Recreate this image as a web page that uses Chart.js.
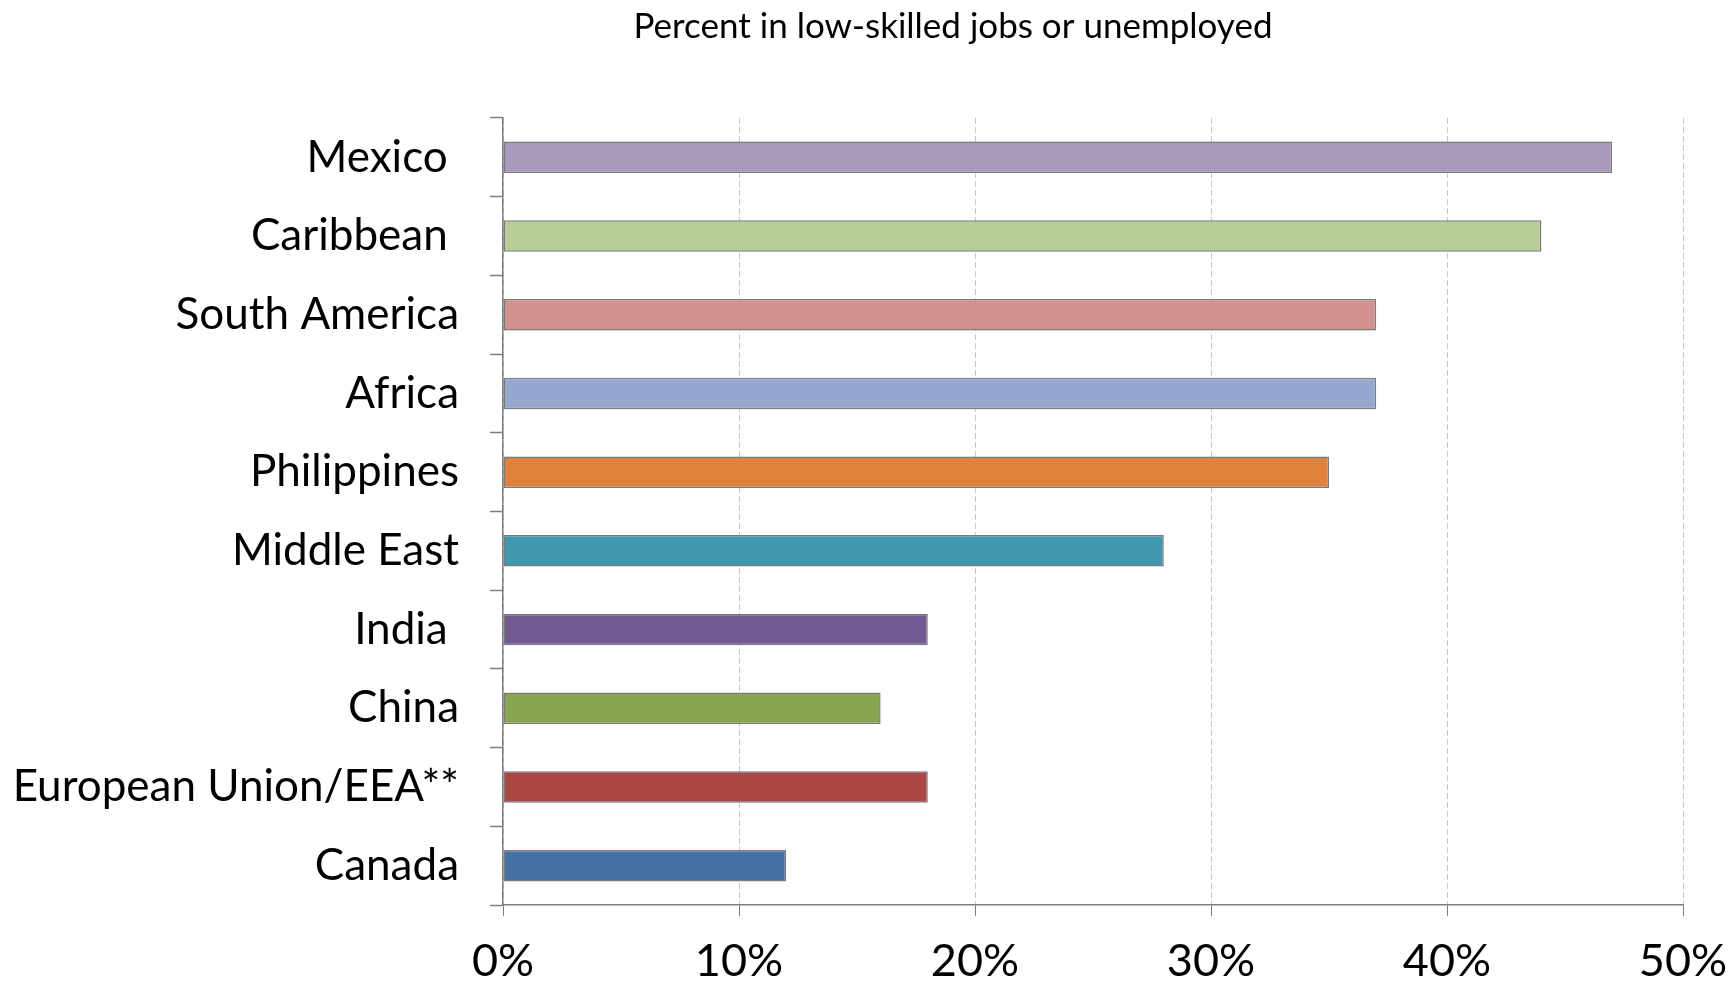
<!DOCTYPE html>
<html>
<head>
<meta charset="utf-8">
<script src="https://cdn.jsdelivr.net/npm/chart.js@4.4.1/dist/chart.umd.min.js"></script>
<style>
  html, body { margin: 0; padding: 0; background: #fff; }
  #wrap { width: 1734px; height: 983px; }
</style>
</head>
<body>
<div id="wrap"><canvas id="chart"></canvas></div>
<script>
// regions, top to bottom (trailing spaces kept as in the original labels)
const regions = ['Mexico ', 'Caribbean ', 'South America', 'Africa', 'Philippines',
                 'Middle East', 'India ', 'China', 'European Union/EEA**', 'Canada'];
// percent in low-skilled jobs or unemployed
const shares = [47, 44, 37, 37, 35, 28, 18, 16, 18, 12];
const barColors = ['#a99abd', '#b9ce97', '#d39292', '#95a9d0', '#de823c',
                   '#4198af', '#735a91', '#88a54f', '#aa4644', '#4671a5'];
const xTicks = [0, 10, 20, 30, 40, 50];

const TITLE = 'Percent in low-skilled jobs or unemployed';
const FONT = 'Lato, "Open Sans", sans-serif';

// heading sits off-centre, so draw it by hand in the top padding
const headingPlugin = {
  id: 'heading',
  afterDraw(chart) {
    const ctx = chart.ctx;
    ctx.save();
    ctx.font = '35px ' + FONT;
    ctx.fillStyle = '#000';
    ctx.textAlign = 'center';
    ctx.textBaseline = 'middle';
    ctx.fillText(TITLE, 953, 27);
    ctx.restore();
  }
};

new Chart(document.getElementById('chart'), {
  type: 'bar',
  data: {
    labels: regions,
    datasets: [{
      data: shares,
      backgroundColor: barColors,
      borderColor: '#7a7a7a',
      borderWidth: 1.5,
      borderSkipped: false,
      categoryPercentage: 1,
      barPercentage: 0.40
    }]
  },
  options: {
    indexAxis: 'y',
    responsive: true,
    maintainAspectRatio: false,
    animation: false,
    layout: { padding: { left: 0, right: 51, top: 118, bottom: 0 } },
    plugins: {
      legend: { display: false },
      tooltip: { enabled: false },
      title: { display: false }
    },
    scales: {
      x: {
        min: 0, max: 50,
        afterBuildTicks: s => { s.ticks = xTicks.map(v => ({ value: v })); },
        grid: {
          color: '#c8c8c8',
          tickColor: '#7f7f7f',
          tickLength: 11,
          tickBorderDash: []
        },
        border: { color: '#7f7f7f', width: 1.5, dash: [6, 3] },
        ticks: {
          color: '#000',
          padding: 18,
          maxRotation: 0,
          font: { family: FONT, size: 45 },
          callback: v => v + '%'
        },
        afterFit: s => { s.height = 78; s.paddingLeft = 0; s.paddingRight = 0; }
      },
      y: {
        grid: {
          offset: true,
          drawOnChartArea: false,
          tickColor: '#7f7f7f',
          tickLength: 13,
          tickWidth: 1.5
        },
        border: { color: '#7f7f7f', width: 1.5 },
        ticks: {
          color: '#000',
          padding: 31,
          font: { family: FONT, size: 44 }
        },
        afterFit: s => { s.width = 503; }
      }
    }
  },
  plugins: [headingPlugin]
});
</script>
</body>
</html>
